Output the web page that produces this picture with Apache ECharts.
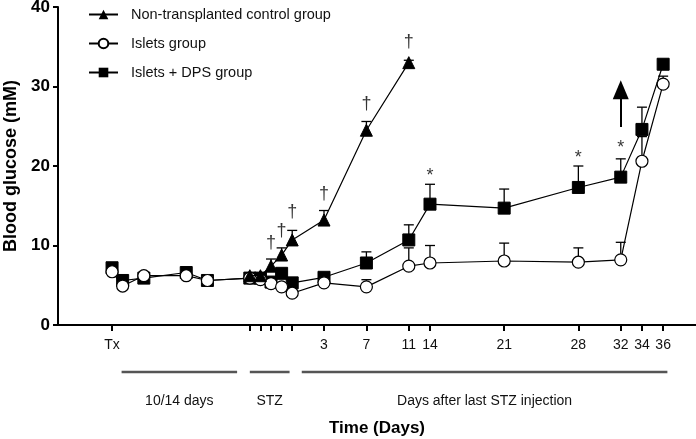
<!DOCTYPE html>
<html><head><meta charset="utf-8">
<script src="https://cdn.jsdelivr.net/npm/echarts@6/dist/echarts.min.js"></script>
<style>html,body{margin:0;padding:0;background:#fff}#c{width:696px;height:439px}</style>
</head><body><div id="c"></div>
<script>
// x positions in "plot days" (0 = last STZ injection; pre-Tx phase compressed)
const tickPos = [-17, -4, -3, -2, -1, 0, 3, 7, 11, 13, 20, 27, 31, 33, 35];
const labelPos = [-17, 3, 7, 11, 13, 20, 27, 31, 33, 35];
const tickLabels = ['Tx', '3', '7', '11', '14', '21', '28', '32', '34', '36'];

const daysIslets = [-17, -16, -14, -10, -8, -4, -3, -2, -1, 0, 3, 7, 11, 13, 20, 27, 31, 33, 35];
const islets   = [6.7, 4.9, 6.2, 6.2, 5.6, 5.9, 5.7, 5.2, 4.8, 4.0, 5.3, 4.8, 7.4, 7.8, 8.05, 7.9, 8.2, 20.6, 30.3];
const isletsSD = [0.3, 0.3, 0.3, 0.3, 0.3, 0.3, 0.3, 0.3, 0.3, 0.3, 0.4, 0.9, 2.3, 2.2, 2.25, 1.8, 2.2, 3.1, 1.0];
const dps      = [7.2, 5.6, 5.9, 6.6, 5.6, 5.9, 5.9, 5.4, 6.5, 5.3, 6.0, 7.8, 10.7, 15.2, 14.7, 17.3, 18.6, 24.6, 32.8];
const dpsSD    = [0.3, 0.3, 0.3, 0.3, 0.3, 0.3, 0.3, 0.3, 0.3, 0.3, 0.5, 1.4, 1.9, 2.5, 2.4, 2.7, 2.3, 2.8, 0.3];

const daysCtrl = [-4, -3, -2, -1, 0, 3, 7, 11];
const ctrl     = [6.2, 6.2, 7.4, 8.8, 10.7, 13.2, 24.5, 33.0];
const ctrlSD   = [0.3, 0.3, 0.9, 0.9, 1.2, 1.2, 1.1, 0.3];

const daggerX = [-2, -1, 0, 3, 7, 11];
const daggerY = [10.3, 11.8, 14.2, 16.5, 27.8, 35.6];
const starX = [13, 27, 31];
const starY = [18.7, 21.0, 22.2];

const arrowX = 31, arrowFrom = 24.9, arrowTo = 29.6;

const phaseNames = ['10/14 days', 'STZ', 'Days after last STZ injection'];
const phaseStart = [-16.1, -4.0, 0.9];
const phaseEnd   = [-5.2, -0.25, 35.4];

const FONT = 'Liberation Sans, Arial, Helvetica, sans-serif';
const zip = (xs, ys) => xs.map((x, i) => [x, ys[i]]);
const zip3 = (xs, ys, es) => xs.map((x, i) => [x, ys[i], es[i]]);

function errRender(params, api) {
  const x = api.value(0), y = api.value(1), sd = api.value(2);
  const p0 = api.coord([x, y]);
  const p1 = api.coord([x, y + sd]);
  const hw = 5;
  return {
    type: 'group',
    children: [
      { type: 'line', shape: { x1: p0[0], y1: p0[1], x2: p1[0], y2: p1[1] }, style: { stroke: '#000', lineWidth: 1.3 } },
      { type: 'line', shape: { x1: p1[0] - hw, y1: p1[1], x2: p1[0] + hw, y2: p1[1] }, style: { stroke: '#000', lineWidth: 1.3 } }
    ]
  };
}

const chart = echarts.init(document.getElementById('c'), null, { renderer: 'canvas' });
const option = {
  animation: false,
  backgroundColor: '#fff',
  textStyle: { fontFamily: FONT },
  grid: { left: 58, right: 0, top: 7, bottom: 114, containLabel: false, outerBoundsMode: 'none' },
  legend: {
    orient: 'vertical', left: 83, top: 2, itemGap: 14, itemWidth: 29, itemHeight: 12,
    textStyle: { fontFamily: FONT, fontSize: 14.5, color: '#111', padding: [0, 0, 0, 8] },
    data: ['Non-transplanted control group', 'Islets group', 'Islets + DPS group']
  },
  xAxis: {
    type: 'value', min: -22.1, max: 38.1,
    splitLine: { show: false },
    axisLine: { onZero: false, lineStyle: { color: '#000', width: 2 } },
    axisTick: { show: true, customValues: tickPos, length: 6, lineStyle: { color: '#000', width: 2 } },
    axisLabel: {
      customValues: labelPos, margin: 13, fontSize: 14, color: '#111', fontFamily: FONT,
      formatter: v => { const i = labelPos.findIndex(p => Math.abs(p - v) < 1e-6); return i >= 0 ? tickLabels[i] : ''; }
    },
    name: 'Time (Days)', nameLocation: 'middle', nameGap: 95,
    nameTextStyle: { fontSize: 17, fontWeight: 'bold', color: '#000', fontFamily: FONT }
  },
  yAxis: {
    type: 'value', min: 0, max: 40, interval: 10,
    splitLine: { show: false },
    axisLine: { show: true, onZero: false, lineStyle: { color: '#000', width: 2 } },
    axisTick: { show: true, length: 5, lineStyle: { color: '#000', width: 2 } },
    axisLabel: { margin: 8, fontSize: 17, fontWeight: 'bold', color: '#000', fontFamily: FONT },
    name: 'Blood glucose (mM)', nameLocation: 'middle', nameGap: 37,
    nameTextStyle: { fontSize: 18, fontWeight: 'bold', color: '#000', fontFamily: FONT }
  },
  series: [
    { type: 'custom', name: 'errCtrl', renderItem: errRender, data: zip3(daysCtrl, ctrl, ctrlSD), z: 1, silent: true },
    { type: 'custom', name: 'errDps', renderItem: errRender, data: zip3(daysIslets, dps, dpsSD), z: 1, silent: true },
    { type: 'custom', name: 'errIslets', renderItem: errRender, data: zip3(daysIslets, islets, isletsSD), z: 1, silent: true },
    {
      type: 'line', name: 'Islets + DPS group', data: zip(daysIslets, dps), z: 3,
      symbol: 'rect', symbolSize: 12, showAllSymbol: true,
      lineStyle: { color: '#000', width: 1.2 }, itemStyle: { color: '#000', borderColor: '#000' },
      markLine: {
        silent: true, symbol: ['none', 'triangle'], symbolSize: [16, 19], label: { show: false },
        lineStyle: { color: '#000', width: 2, type: 'solid' },
        data: [[{ coord: [arrowX, arrowFrom] }, { coord: [arrowX, arrowTo] }]]
      }
    },
    {
      type: 'line', name: 'Islets group', data: zip(daysIslets, islets), z: 4,
      symbol: 'circle', symbolSize: 12, showAllSymbol: true,
      lineStyle: { color: '#000', width: 1.2 }, itemStyle: { color: '#fff', borderColor: '#000', borderWidth: 1.2 }
    },
    {
      type: 'line', name: 'Non-transplanted control group', data: zip(daysCtrl, ctrl), z: 5,
      symbol: 'triangle', symbolSize: 12, showAllSymbol: true,
      lineStyle: { color: '#000', width: 1.2 }, itemStyle: { color: '#000', borderColor: '#000' }
    },
    {
      type: 'scatter', name: 'daggers', data: zip(daggerX, daggerY), symbolSize: 1, z: 6, silent: true,
      itemStyle: { color: 'rgba(0,0,0,0)' },
      label: { show: true, position: 'inside', formatter: '\u2020', fontSize: 18, color: '#000', fontFamily: FONT }
    },
    {
      type: 'scatter', name: 'stars', data: zip(starX, starY), symbolSize: 1, z: 6, silent: true,
      itemStyle: { color: 'rgba(0,0,0,0)' },
      label: { show: true, position: 'inside', formatter: '*', fontSize: 18, color: '#000', fontFamily: FONT }
    }
  ]
};
chart.setOption(option);

const axisY = chart.convertToPixel({ yAxisIndex: 0 }, 0);
const graphics = [];
phaseNames.forEach((n, i) => {
  const x1 = chart.convertToPixel({ xAxisIndex: 0 }, phaseStart[i]);
  const x2 = chart.convertToPixel({ xAxisIndex: 0 }, phaseEnd[i]);
  graphics.push({ type: 'line', shape: { x1, y1: axisY + 47, x2, y2: axisY + 47 }, style: { stroke: '#555', lineWidth: 2.5 } });
  graphics.push({ type: 'text', x: (x1 + x2) / 2, y: axisY + 76, style: { text: n, fontSize: 14, fontFamily: FONT, fill: '#111', align: 'center', verticalAlign: 'middle' } });
});
chart.setOption({ graphic: graphics });
</script></body></html>
